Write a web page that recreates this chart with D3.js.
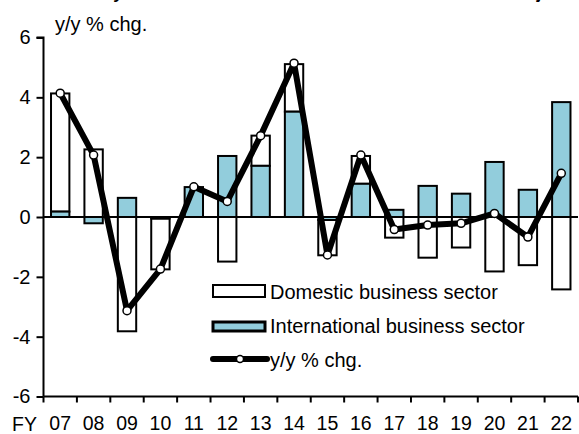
<!DOCTYPE html>
<html><head><meta charset="utf-8">
<script src="https://cdn.jsdelivr.net/npm/d3@7"></script>
<style>body{margin:0;background:#fff}svg{display:block;font-family:"Liberation Sans",Arial,sans-serif}</style>
</head><body><svg id="c" width="579" height="434"></svg>
<script>
const years = ["07","08","09","10","11","12","13","14","15","16","17","18","19","20","21","22"];
const domestic = [3.95, 2.26, -3.82, -1.70, 0.0, -1.49, 1.01, 1.59, -1.18, 0.93, -0.69, -1.36, -1.02, -1.82, -1.61, -2.42];
const international = [0.18, -0.21, 0.64, -0.05, 1.0, 2.04, 1.71, 3.52, -0.10, 1.11, 0.24, 1.04, 0.78, 1.84, 0.91, 3.84];
const yoy = [4.14, 2.07, -3.13, -1.74, 1.01, 0.52, 2.72, 5.14, -1.27, 2.07, -0.42, -0.27, -0.21, 0.12, -0.67, 1.46];
const yTicks = [-6, -4, -2, 0, 2, 4, 6];
const legendLabels = ["Domestic business sector", "International business sector", "y/y % chg."];

const svg = d3.select("#c");
const L = 43.5, R = 578, T = 37.5, B = 396.5;
const x = d3.scaleBand().domain(years).range([L, R]).paddingInner(0.45).paddingOuter(0.225);
const y = d3.scaleLinear().domain([-6, 6]).range([B, T]);
const blue = "#92cddc";

// clipped title
svg.append("text").attr("x", 562).attr("y", -1.5).attr("text-anchor", "end")
  .attr("font-weight", "bold").attr("font-size", 17)
  .text("Contributions by domestic and international business sectors at major.");

svg.append("text").attr("x", 55).attr("y", 31).attr("font-size", 20).text("y/y % chg.");

// bars
const rows = years.map((yr, i) => {
  const d = domestic[i], n = international[i];
  let nb = 0, nt = n, db = 0, dt = d;
  if (Math.sign(d) === Math.sign(n)) { db = n; dt = n + d; }
  return {yr, nb, nt, db, dt};
});
const g = svg.append("g");
g.selectAll("rect.dom").data(rows).join("rect").attr("class","dom")
  .attr("x", r => x(r.yr)).attr("width", x.bandwidth())
  .attr("y", r => y(Math.max(r.db, r.dt))).attr("height", r => Math.abs(y(r.db) - y(r.dt)))
  .attr("fill", "#fff").attr("stroke", "#000").attr("stroke-width", 2);
g.selectAll("rect.int").data(rows).join("rect").attr("class","int")
  .attr("x", r => x(r.yr)).attr("width", x.bandwidth())
  .attr("y", r => y(Math.max(r.nb, r.nt))).attr("height", r => Math.abs(y(r.nb) - y(r.nt)))
  .attr("fill", blue).attr("stroke", "#000").attr("stroke-width", 2);

// zero line
svg.append("line").attr("x1", L).attr("x2", R).attr("y1", y(0)).attr("y2", y(0))
  .attr("stroke", "#000").attr("stroke-width", 2);

// y axis
const ya = svg.append("g").attr("transform", `translate(${L},0)`)
  .call(d3.axisLeft(y).tickValues(yTicks).tickSize(7).tickPadding(6).tickFormat(d => String(d)));
ya.select(".domain").attr("stroke-width", 2).attr("d", `M-7,${y(6)}H0V${B}`);
ya.selectAll(".tick line").attr("stroke-width", 2);
ya.selectAll("text").attr("font-size", 20).attr("font-family", "Liberation Sans, Arial, sans-serif").attr("fill","#000");

// x axis
const xa = svg.append("g").attr("transform", `translate(0,${B})`)
  .call(d3.axisBottom(x).tickSize(0).tickPadding(19.5));
xa.select(".domain").attr("stroke-width", 2).attr("d", `M${L},0H${R}`);
xa.selectAll("text").attr("font-size", 19.5).attr("font-family", "Liberation Sans, Arial, sans-serif").attr("fill","#000");
const bounds = years.map((yr) => x(yr) - x.step() * x.paddingInner() / 2);
bounds.push(R);
svg.append("g").selectAll("line").data(bounds).join("line")
  .attr("x1", d => d).attr("x2", d => d).attr("y1", B).attr("y2", B + 6)
  .attr("stroke", "#000").attr("stroke-width", 2);
svg.append("text").attr("x", 12).attr("y", 430.5).attr("font-size", 19.5).text("FY");

// line
const cx = (yr) => x(yr) + x.bandwidth() / 2;
svg.append("path").datum(yoy)
  .attr("d", d3.line().x((v, i) => cx(years[i])).y(v => y(v)))
  .attr("fill", "none").attr("stroke", "#000").attr("stroke-width", 6).attr("stroke-linejoin", "round");
svg.append("g").selectAll("circle").data(yoy).join("circle")
  .attr("cx", (v, i) => cx(years[i])).attr("cy", v => y(v)).attr("r", 4)
  .attr("fill", "#fff").attr("stroke", "#000").attr("stroke-width", 1.5);

// legend
const lg = svg.append("g");
lg.append("rect").attr("x", 213).attr("y", 285).attr("width", 52).attr("height", 12)
  .attr("fill", "#fff").attr("stroke", "#000").attr("stroke-width", 2);
lg.append("rect").attr("x", 213).attr("y", 322).attr("width", 52).attr("height", 9)
  .attr("fill", blue).attr("stroke", "#000").attr("stroke-width", 3);
lg.append("line").attr("x1", 213).attr("x2", 267).attr("y1", 359).attr("y2", 359)
  .attr("stroke", "#000").attr("stroke-width", 6).attr("stroke-linecap", "round");
lg.append("circle").attr("cx", 240).attr("cy", 359).attr("r", 3.5)
  .attr("fill", "#fff").attr("stroke", "#000").attr("stroke-width", 1.5);
const lys = [298.5, 332.5, 366.5];
lg.selectAll("text").data(legendLabels).join("text")
  .attr("x", 270).attr("y", (d, i) => lys[i]).attr("font-size", 20).text(d => d);
</script></body></html>
